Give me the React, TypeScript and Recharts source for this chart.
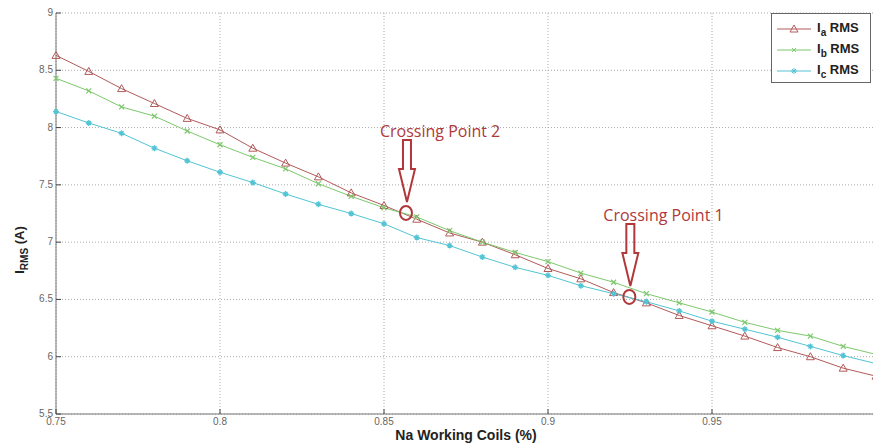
import React from 'react';
import {
  LineChart, Line, XAxis, YAxis, CartesianGrid, ReferenceDot,
} from 'recharts';

const coilShare = [
  0.75, 0.76, 0.77, 0.78, 0.79, 0.8, 0.81, 0.82, 0.83, 0.84, 0.85, 0.86, 0.87,
  0.88, 0.89, 0.9, 0.91, 0.92, 0.93, 0.94, 0.95, 0.96, 0.97, 0.98, 0.99, 1.0,
];
const iaRms = [
  8.63, 8.49, 8.34, 8.21, 8.08, 7.98, 7.82, 7.69, 7.57, 7.43, 7.32, 7.2, 7.08,
  7.0, 6.89, 6.77, 6.68, 6.56, 6.47, 6.36, 6.27, 6.18, 6.08, 6.0, 5.9, 5.83,
];
const ibRms = [
  8.43, 8.32, 8.18, 8.1, 7.97, 7.85, 7.74, 7.64, 7.51, 7.4, 7.3, 7.22, 7.1,
  7.0, 6.91, 6.83, 6.73, 6.65, 6.55, 6.47, 6.39, 6.3, 6.23, 6.18, 6.09, 6.02,
];
const icRms = [
  8.14, 8.04, 7.95, 7.82, 7.71, 7.61, 7.52, 7.42, 7.33, 7.25, 7.16, 7.04, 6.97,
  6.87, 6.78, 6.71, 6.62, 6.55, 6.48, 6.4, 6.31, 6.24, 6.17, 6.09, 6.01, 5.94,
];
const xTicks = [0.75, 0.8, 0.85, 0.9, 0.95];
const yTicks = [5.5, 6, 6.5, 7, 7.5, 8, 8.5, 9];
const crossings = [
  { label: 'Crossing Point 2', x: 0.8567, y: 7.255 },
  { label: 'Crossing Point 1', x: 0.9248, y: 6.522 },
];

const data = coilShare.map((x, i) => ({ x, ia: iaRms[i], ib: ibRms[i], ic: icRms[i] }));

const RED = '#b25a5a';
const GREEN = '#7cc86c';
const CYAN = '#52c4d4';
const NOTE = '#b0383a';
const TICK_FONT = '"Liberation Sans", Arial, sans-serif';

const triangleDot = (props: any) => {
  const { cx, cy, index } = props;
  if (cx == null || cy == null) return <g key={index} />;
  return (
    <path key={index} d={`M${cx},${cy - 4} L${cx + 4},${cy + 3} L${cx - 4},${cy + 3} Z`}
      fill="none" stroke={RED} strokeWidth={1} />
  );
};

const crossDot = (props: any) => {
  const { cx, cy, index } = props;
  if (cx == null || cy == null) return <g key={index} />;
  return (
    <path key={index} d={`M${cx - 2.5},${cy - 2.5} L${cx + 2.5},${cy + 2.5} M${cx - 2.5},${cy + 2.5} L${cx + 2.5},${cy - 2.5}`}
      stroke={GREEN} strokeWidth={1.2} />
  );
};

const starDot = (props: any) => {
  const { cx, cy, index } = props;
  if (cx == null || cy == null) return <g key={index} />;
  return (
    <g key={index} stroke={CYAN} strokeWidth={1.3}>
      <path d={`M${cx - 3},${cy} L${cx + 3},${cy} M${cx},${cy - 3} L${cx},${cy + 3} M${cx - 2},${cy - 2} L${cx + 2},${cy + 2} M${cx - 2},${cy + 2} L${cx + 2},${cy - 2}`} />
    </g>
  );
};

const BottomTick = (props: any) => {
  const { x, y, payload } = props;
  return (
    <g>
      <line x1={x} y1={y} x2={x} y2={y - 5} stroke="#444" />
      <text x={x} y={y + 11} textAnchor="middle" fontSize={10} fill="#666" fontFamily={TICK_FONT}>
        {payload.value}
      </text>
    </g>
  );
};

const TopTick = (props: any) => {
  const { x, y } = props;
  return <line x1={x} y1={y} x2={x} y2={y + 5} stroke="#444" />;
};

const LeftTick = (props: any) => {
  const { x, y, payload } = props;
  return (
    <g>
      <line x1={x} y1={y} x2={x + 5} y2={y} stroke="#444" />
      <text x={x - 3} y={y + 3} textAnchor="end" fontSize={10} fill="#666" fontFamily={TICK_FONT}>
        {payload.value}
      </text>
    </g>
  );
};

const crossingShape = (label: string) => (props: any) => {
  const { cx, cy } = props;
  const ax = cx + 1;
  const arrow = [
    `M${ax - 4},${cy - 73}`, `L${ax + 4},${cy - 73}`, `L${ax + 4},${cy - 44}`,
    `L${ax + 8},${cy - 44}`, `L${ax},${cy - 11}`, `L${ax - 8},${cy - 44}`,
    `L${ax - 4},${cy - 44}`, 'Z',
  ].join(' ');
  return (
    <g>
      <ellipse cx={cx} cy={cy} rx={6} ry={7} fill="none" stroke={NOTE} strokeWidth={2} />
      <path d={arrow} fill="none" stroke={NOTE} strokeWidth={2} strokeLinejoin="miter" />
      <text x={cx - 26} y={cy - 76} fontSize={16} fill={NOTE} fontFamily='"Open Sans", sans-serif'>
        {label}
      </text>
    </g>
  );
};

const legendItems = [
  { sub: 'a', color: RED, marker: 'tri' },
  { sub: 'b', color: GREEN, marker: 'x' },
  { sub: 'c', color: CYAN, marker: 'star' },
];

const LegendBox = () => (
  <div style={{
    position: 'absolute', left: 771, top: 13, width: 100, height: 70,
    border: '1px solid #666', background: '#fff', boxSizing: 'border-box',
    fontFamily: TICK_FONT, fontWeight: 'bold', fontSize: 13, color: '#222',
    paddingTop: 4,
  }}>
    {legendItems.map((it) => (
      <div key={it.sub} style={{ display: 'flex', alignItems: 'center', height: 21 }}>
        <svg width={40} height={12} style={{ marginLeft: 5 }}>
          <line x1={0} y1={6} x2={34} y2={6} stroke={it.color} />
          {it.marker === 'tri' && <path d="M17,2 L21,9 L13,9 Z" fill="none" stroke={it.color} />}
          {it.marker === 'x' && <path d="M15,4 L19,8 M15,8 L19,4" stroke={it.color} />}
          {it.marker === 'star' && <path d="M14,6 L20,6 M17,3 L17,9 M15,4 L19,8 M15,8 L19,4" stroke={it.color} />}
        </svg>
        <span>I<sub style={{ fontSize: 10 }}>{it.sub}</sub> RMS</span>
      </div>
    ))}
  </div>
);

const YLabel = () => (
  <text transform="translate(24,250) rotate(-90)" textAnchor="middle" fontFamily={TICK_FONT}
    fontWeight="bold" fontSize={13} fill="#222">
    I<tspan fontSize={10} dy={4}>RMS</tspan><tspan dy={-4}> (A)</tspan>
  </text>
);

export default function App() {
  return (
    <div style={{ width: 873, height: 443, position: 'relative', overflow: 'hidden', background: '#fff' }}>
      <style>{'body{margin:0}'}</style>
      <LineChart width={880} height={443} data={data} margin={{ top: 13, right: 4, left: 0, bottom: 0 }}>
        <CartesianGrid stroke="#aaa" strokeDasharray="1 2" />
        <XAxis xAxisId="top" orientation="top" dataKey="x" type="number" domain={[0.75, 1]} ticks={xTicks}
          height={0} tickSize={0} tickLine={false} tick={<TopTick />} axisLine={{ stroke: '#777' }} />
        <XAxis dataKey="x" type="number" domain={[0.75, 1]} ticks={xTicks} height={29}
          tickSize={0} tickMargin={0} tickLine={false} tick={<BottomTick />} axisLine={{ stroke: '#777' }}
          label={{ value: 'Na Working Coils (%)', position: 'insideBottom', offset: 3, fontSize: 14, fontWeight: 'bold', fill: '#222', fontFamily: TICK_FONT }} />
        <YAxis type="number" domain={[5.5, 9]} ticks={yTicks} width={56} tickSize={0} tickMargin={0}
          tickLine={false} tick={<LeftTick />} axisLine={{ stroke: '#777' }} label={{ content: () => <YLabel /> }} />
        <Line dataKey="ia" stroke={RED} strokeWidth={1} dot={triangleDot} isAnimationActive={false} />
        <Line dataKey="ib" stroke={GREEN} strokeWidth={1} dot={crossDot} isAnimationActive={false} />
        <Line dataKey="ic" stroke={CYAN} strokeWidth={1} dot={starDot} isAnimationActive={false} />
        {crossings.map((c) => (
          <ReferenceDot key={c.label} x={c.x} y={c.y} r={6} shape={crossingShape(c.label)} />
        ))}
      </LineChart>
      <LegendBox />
    </div>
  );
}
